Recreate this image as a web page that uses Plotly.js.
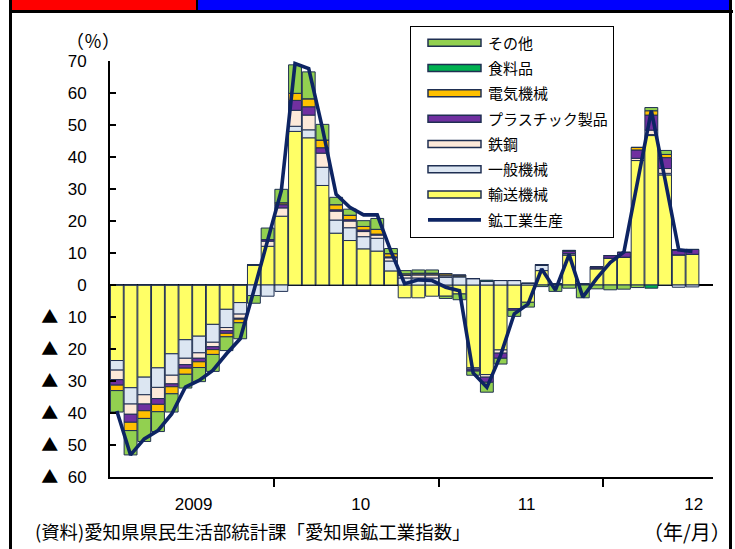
<!DOCTYPE html>
<html>
<head>
<meta charset="utf-8">
<script src="https://cdn.plot.ly/plotly-3.0.1.min.js"></script>
<style>
  html, body { margin: 0; padding: 0; background: #fff; }
  #wrap { position: relative; width: 735px; height: 549px; overflow: hidden; }
  #chart { position: absolute; left: 0; top: 0; width: 735px; height: 549px; }
  .frame { position: absolute; z-index: 10; pointer-events: none; }
</style>
</head>
<body>
<div id="wrap">
  <div id="chart"></div>
  <div class="frame" style="left:11px;top:0;width:185px;height:10px;background:#ff0000;"></div>
  <div class="frame" style="left:196px;top:0;width:2px;height:10px;background:#000;"></div>
  <div class="frame" style="left:198px;top:0;width:533px;height:10px;background:#0000ff;"></div>
  <div class="frame" style="left:9px;top:10px;width:724px;height:3px;background:#000;"></div>
  <div class="frame" style="left:9px;top:0;width:3px;height:549px;background:#000;"></div>
  <div class="frame" style="left:729px;top:0;width:3px;height:549px;background:#000;"></div>
</div>
<script>
// Months: Jan 2009 .. Jul 2012
const months = ['2009/1','2009/2','2009/3','2009/4','2009/5','2009/6','2009/7','2009/8','2009/9','2009/10','2009/11','2009/12',
  '2010/1','2010/2','2010/3','2010/4','2010/5','2010/6','2010/7','2010/8','2010/9','2010/10','2010/11','2010/12',
  '2011/1','2011/2','2011/3','2011/4','2011/5','2011/6','2011/7','2011/8','2011/9','2011/10','2011/11','2011/12',
  '2012/1','2012/2','2012/3','2012/4','2012/5','2012/6','2012/7'];

// Contributions (percentage points)
const yusou = [-23.6,-32.1,-28.8,-25.9,-21.5,-17.1,-16.0,-12.3,-7.6,-5.5,6.3,12.1,
  21.5,48.0,46.0,31.1,16.2,13.9,11.3,10.6,4.4,-4.0,-4.0,-3.5,
  -3.5,-2.8,-25.9,-28.0,-20.3,-7.4,-5.4,4.5,0.3,9.4,0.3,5.1,
  8.4,8.7,38.9,46.7,34.4,9.4,9.6];
const ippan = [-3.0,-5.1,-5.5,-6.1,-6.7,-5.8,-5.2,-5.6,-5.7,-3.6,-3.3,-3.5,
  -2.0,1.6,2.5,5.7,4.1,4.0,3.8,4.0,3.1,2.2,2.2,2.2,
  2.4,2.6,2.0,1.2,1.4,1.4,0.5,1.6,0,0,0,0,
  0,0,0,0.3,0.5,-0.7,-0.6];
const tekko = [-3.0,-3.2,-2.9,-3.5,-2.7,-2.0,-1.7,-1.4,-1.0,-1.3,0,1.6,
  2.6,5.0,4.6,4.4,2.8,2.1,1.6,1.0,1.0,0.8,1.0,1.0,
  0.5,0,-0.4,-0.8,-1.0,0,0,0.3,0,0.4,0,0,
  0,0,0.7,1.4,1.5,0,0];
const plastic = [-1.7,-2.5,-2.1,-1.8,-0.9,-1.1,-1.1,-0.9,-0.8,-0.3,0,0.5,
  1.0,3.1,2.6,1.7,0.4,0.4,0.5,0.3,0.3,0,0,0,
  0,0,-0.6,-1.6,-1.6,-0.5,0,0,0,0.7,0,0.6,
  0.8,1.5,2.6,4.7,3.4,1.6,1.5];
const denki = [-1.7,-2.6,-2.4,-2.3,-2.2,-1.9,-1.8,-1.5,-1.1,-1.1,0,0,
  0.6,2.2,2.5,2.4,1.6,1.4,1.1,1.5,1.0,0.5,0.5,0.5,
  0.6,0.5,0,0,0,0,0,0,0,0.3,0,0,
  0,0,0.8,1.35,1.0,0,0];
const shokuryo = [0,0,0,0,0,0,0,0,0,0,0,0,
  0,0,0,0,0,0,0,0,0,0,0,0,
  0,0,0,0.3,0,0,0,0,0,0,0,0,
  0,0,0,-1.0,0,0,0];
const sonota = [-6.7,-7.6,-7.2,-6.2,-5.7,-4.3,-4.4,-5.3,-4.3,-5.0,-2.4,3.6,
  4.2,8.9,8.4,4.9,2.3,1.9,1.8,3.4,1.6,1.0,1.0,1.0,
  -0.7,-1.8,-1.3,-3.1,-1.8,-1.9,-1.5,-0.5,-2.0,-1.0,-4.0,-1.2,
  -1.5,-1.3,-0.8,1.0,1.25,0,0];
// Mining & manufacturing production, YoY %
const kokogyo = [-39.4,-53.1,-48.1,-45.5,-40.3,-31.9,-29.8,-26.7,-21.5,-16.8,-1.7,14.0,
  29.5,69.2,67.6,49.0,28.3,24.3,21.9,21.9,10.5,0.4,1.6,1.4,
  -0.7,-1.8,-27.5,-32.0,-22.0,-9.0,-6.0,5.0,-1.6,9.5,-3.8,2.0,
  7.0,10.3,33.0,54.5,33.0,11.0,10.5];

const yTickVals = [-60,-50,-40,-30,-20,-10,0,10,20,30,40,50,60,70];
const yTickNums = ['60','50','40','30','20','10','0','10','20','30','40','50','60','70'];
const yearLabels = ['2009','10','11','12'];

const tri = '<span style="font-family:Noto Sans CJK JP">▲</span>\u00a0\u00a0';
const yTickText = yTickVals.map((v, i) => (v < 0 ? tri : '') + yTickNums[i]);

const xIdx = months.map((m, i) => i);
const outline = {color: '#1f2f52', width: 1};

const series = [
  {name: '輸送機械', y: yusou, color: '#FFFF66', rank: 7},
  {name: '一般機械', y: ippan, color: '#DCE6F2', rank: 6},
  {name: '鉄鋼', y: tekko, color: '#FDE9D9', rank: 5},
  {name: 'プラスチック製品', y: plastic, color: '#7030A0', rank: 4},
  {name: '電気機械', y: denki, color: '#FFC000', rank: 3},
  {name: '食料品', y: shokuryo, color: '#00B050', rank: 2},
  {name: 'その他', y: sonota, color: '#92D050', rank: 1}
];

const data = [];
series.forEach((s) => {
  data.push({type: 'bar', name: s.name, x: xIdx, y: s.y, legendgroup: 'g' + s.rank, legendrank: s.rank,
    marker: {color: s.color, line: outline}, hoverinfo: 'skip'});
});
data.push({
  type: 'scatter', mode: 'lines', name: '鉱工業生産', x: xIdx, y: kokogyo,
  xaxis: 'x2', yaxis: 'y', legendgroup: 'g8', legendrank: 8,
  line: {color: '#0d2463', width: 3.6}
});

const layout = {
  width: 735, height: 549,
  margin: {l: 110, r: 22, t: 61, b: 72, autoexpand: false},
  paper_bgcolor: 'rgba(0,0,0,0)', plot_bgcolor: 'rgba(0,0,0,0)',
  barmode: 'relative', bargap: 0.06,
  font: {family: 'Liberation Sans, Arial, Noto Sans CJK JP, sans-serif', size: 17, color: '#000'},
  xaxis: {type: 'linear', range: [-0.5, 43.5], tickmode: 'array', tickvals: [11.5, 23.5, 35.5],
    showticklabels: false, ticks: 'outside', ticklen: 8, tickwidth: 2, tickcolor: '#000',
    showline: true, linecolor: '#000', linewidth: 2, showgrid: false, zeroline: false, fixedrange: true},
  xaxis2: {type: 'linear', overlaying: 'x', anchor: 'y', side: 'bottom', range: [-0.5, 43.5],
    tickmode: 'array', tickvals: [5.6, 17.8, 29.9, 42.1], ticktext: yearLabels, ticks: '',
    ticklabelstandoff: 15, showline: false, showgrid: false, zeroline: false,
    tickfont: {family: 'Liberation Sans, Arial, sans-serif', size: 17}},
  yaxis: {range: [-60, 70], tickmode: 'array', tickvals: yTickVals, ticktext: yTickText,
    ticks: 'inside', ticklen: 6, tickwidth: 2, tickcolor: '#000', ticklabelstandoff: 18,
    showline: true, linecolor: '#000', linewidth: 2, showgrid: false,
    zeroline: true, zerolinecolor: '#000', zerolinewidth: 2,
    tickfont: {family: 'Liberation Sans, Arial, Noto Sans CJK JP, sans-serif', size: 17}},
  showlegend: true,
  legend: {x: 0.4975, y: (477 - 25.5) / 416, xanchor: 'left', yanchor: 'top', traceorder: 'grouped',
    tracegroupgap: 2.8, bgcolor: '#fff', bordercolor: '#000', borderwidth: 1, itemwidth: 67,
    font: {family: 'Noto Sans CJK JP, sans-serif', size: 15, color: '#000'}},
  annotations: [
    {text: '（％）', xref: 'paper', yref: 'paper', x: (93 - 110) / 603, y: (477 - 40) / 416,
      xanchor: 'center', yanchor: 'middle', showarrow: false,
      font: {family: 'Noto Sans CJK JP, sans-serif', size: 18}},
    {text: '(資料)愛知県県民生活部統計課「愛知県鉱工業指数」', xref: 'paper', yref: 'paper',
      x: (33 - 110) / 603, y: (477 - 531) / 416, xanchor: 'left', yanchor: 'middle', showarrow: false,
      font: {family: 'Noto Sans CJK JP, sans-serif', size: 18.4}},
    {text: '（年/月）', xref: 'paper', yref: 'paper', x: (733 - 110) / 603, y: (477 - 531) / 416,
      xanchor: 'right', yanchor: 'middle', showarrow: false,
      font: {family: 'Noto Sans CJK JP, sans-serif', size: 20}}
  ]
};

function widenLegend() {
  // widen legend keys to look like the original's long bar-style keys
  document.querySelectorAll('g.traces').forEach(tr => {
    const txt = tr.querySelector('text.legendtext');
    if (!txt) return;
    const tx = parseFloat(txt.getAttribute('x')) || 77;
    const right = tx - 7, left = right - 53;
    tr.querySelectorAll('g.legendpoints path').forEach(p => {
      p.setAttribute('transform', 'translate(0,0)');
      p.setAttribute('d', `M${left},3.5H${right}V-3.5H${left}Z`);
      p.style.strokeWidth = '1.5px';
    });
    tr.querySelectorAll('g.legendlines path').forEach(p => {
      p.setAttribute('transform', 'translate(0,0)');
      p.setAttribute('d', `M${left},0H${right}`);
    });
  });
}

const gd = document.getElementById('chart');
Plotly.newPlot(gd, data, layout, {staticPlot: true, displayModeBar: false}).then(() => {
  widenLegend();
  gd.on('plotly_afterplot', widenLegend);
  setTimeout(widenLegend, 50);
  setTimeout(widenLegend, 300);
});
</script>
</body>
</html>
